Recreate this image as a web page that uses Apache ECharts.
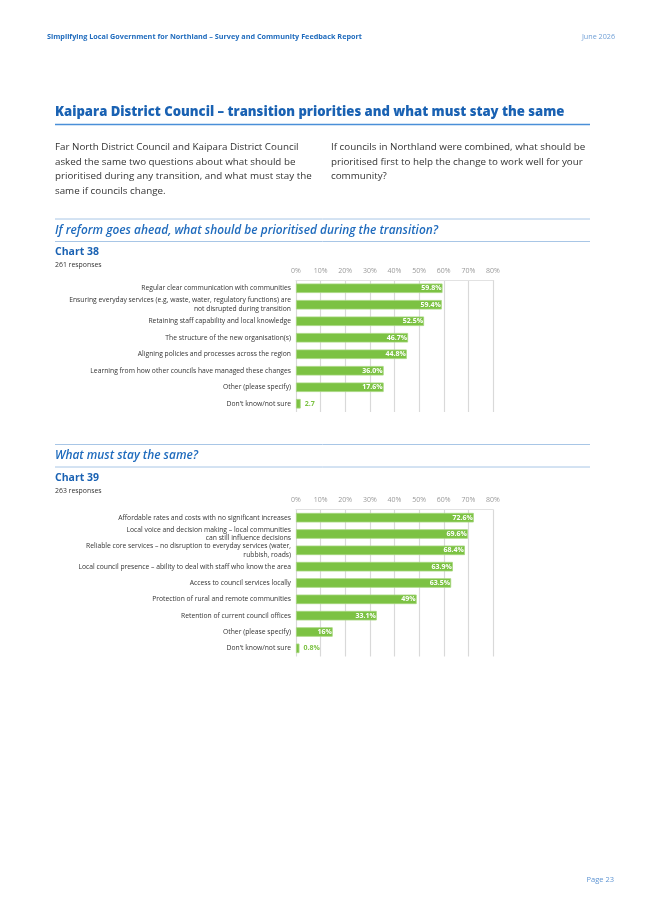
<!DOCTYPE html>
<html>
<head>
<meta charset="utf-8">
<script src="https://cdn.jsdelivr.net/npm/echarts@6/dist/echarts.min.js"></script>
<style>
html,body{margin:0;padding:0;background:#fff;}
#c{width:645px;height:912px;}
</style>
</head>
<body>
<div id="c"></div>
<script>
// ---- Chart 38 data ----
const cats38 = [
  "Regular clear communication with communities",
  "Ensuring everyday services (e.g, waste, water, regulatory functions) are\nnot disrupted during transition",
  "Retaining staff capability and local knowledge",
  "The structure of the new organisation(s)",
  "Aligning policies and processes across the region",
  "Learning from how other councils have managed these changes",
  "Other (please specify)",
  "Don't know/not sure"
];
const values38 = [59.5, 59.2, 52.0, 45.5, 45.0, 35.6, 35.6, 1.9];
const labels38 = ["59.8%", "59.4%", "52.5%", "46.7%", "44.8%", "36.0%", "17.6%", "2.7"];

// ---- Chart 39 data ----
const cats39 = [
  "Affordable rates and costs with no significant increases",
  "Local voice and decision making – local communities\ncan still influence decisions",
  "Reliable core services – no disruption to everyday services (water,\nrubbish, roads)",
  "Local council presence – ability to deal with staff who know the area",
  "Access to council services locally",
  "Protection of rural and remote communities",
  "Retention of current council offices",
  "Other (please specify)",
  "Don't know/not sure"
];
const values39 = [72.2, 69.8, 68.6, 63.7, 63.0, 49.0, 32.8, 14.9, 1.4];
const labels39 = ["72.6%", "69.6%", "68.4%", "63.9%", "63.5%", "49%", "33.1%", "16%", "0.8%"];

const ticks = [0, 10, 20, 30, 40, 50, 60, 70, 80];

const FONT = "'Open Sans', 'Noto Sans', sans-serif";
const GREEN = '#7cc243';
const BLUE = '#1a62b3';
const LINEBLUE = '#a8c6e6';

function barData(vals, labs) {
  return vals.map((v, i) => {
    const small = v < 5;
    return {
      value: v,
      label: {
        show: true,
        formatter: labs[i],
        position: small ? 'right' : 'insideRight',
        distance: small ? 4 : 1,
        color: small ? GREEN : '#fff',
        fontWeight: 'bold',
        fontSize: 7,
        fontFamily: FONT
      }
    };
  });
}

function xAxisFor(gridIndex) {
  return {
    gridIndex, type: 'value', position: 'top', min: ticks[0], max: ticks[ticks.length - 1], interval: ticks[1] - ticks[0],
    axisLine: { show: true, lineStyle: { color: '#e2e2e2', width: 1 } },
    axisTick: { show: false },
    axisLabel: { formatter: '{value}%', color: '#9a9a9a', fontSize: 7, fontFamily: FONT, margin: 6 },
    splitLine: { show: true, lineStyle: { color: '#d9d9d9', width: 1.2 } }
  };
}
function yAxisFor(gridIndex, cats) {
  return {
    gridIndex, type: 'category', data: cats, inverse: true,
    axisLine: { show: false }, axisTick: { show: false },
    axisLabel: { color: '#333', fontSize: 6.75, fontFamily: FONT, margin: 5, lineHeight: 8.5, align: 'right' }
  };
}

function txt(x, y, text, style) {
  return { type: 'text', x, y, style: Object.assign({ text, fontFamily: FONT, fill: '#333', textVerticalAlign: 'middle' }, style) };
}
function hline(y, color, w) {
  return { type: 'line', shape: { x1: 55, y1: y, x2: 590, y2: y }, style: { stroke: color, lineWidth: w } };
}

const para = { fontSize: 9.8, fill: '#333', lineHeight: 14.5, textVerticalAlign: 'top' };

const chart = echarts.init(document.getElementById('c'), null, { renderer: 'canvas' });
chart.setOption({
  animation: false,
  backgroundColor: '#fff',
  grid: [
    { left: 296, width: 197, top: 280, height: 132 },
    { left: 296, width: 197, top: 509.5, height: 147 }
  ],
  xAxis: [xAxisFor(0), xAxisFor(1)],
  yAxis: [yAxisFor(0, cats38), yAxisFor(1, cats39)],
  series: [
    { type: 'bar', xAxisIndex: 0, yAxisIndex: 0, barWidth: 9.5, data: barData(values38, labels38),
      itemStyle: { color: GREEN, borderColor: '#a6d77e', borderWidth: 0.8 } },
    { type: 'bar', xAxisIndex: 1, yAxisIndex: 1, barWidth: 9.5, data: barData(values39, labels39),
      itemStyle: { color: GREEN, borderColor: '#a6d77e', borderWidth: 0.8 } }
  ],
  graphic: [
    txt(47, 37, 'Simplifying Local Government for Northland – Survey and Community Feedback Report', { fontSize: 7.25, fontWeight: 'bold', fill: '#1f6bbd' }),
    txt(615, 37, 'June 2026', { fontSize: 7.2, fill: '#6f9fd6', textAlign: 'right' }),
    txt(55, 112, 'Kaipara District Council – transition priorities and what must stay the same', { fontSize: 13.1, fontWeight: 800, fill: BLUE }),
    hline(124.5, '#4a8fd8', 1.5),
    txt(55, 140, 'Far North District Council and Kaipara District Council\nasked the same two questions about what should be\nprioritised during any transition, and what must stay the\nsame if councils change.', para),
    txt(331, 140, 'If councils in Northland were combined, what should be\nprioritised first to help the change to work well for your\ncommunity?', para),
    hline(219, LINEBLUE, 1),
    txt(55, 230.5, 'If reform goes ahead, what should be prioritised during the transition?', { fontSize: 11.9, fontWeight: 600, fontStyle: 'italic', fill: '#1f6bbd' }),
    hline(241.5, LINEBLUE, 1),
    txt(55, 252, 'Chart 38', { fontSize: 10.5, fontWeight: 'bold', fill: BLUE }),
    txt(55, 265, '261 responses', { fontSize: 6.9, fill: '#333' }),
    hline(444.5, LINEBLUE, 1),
    txt(55, 456, 'What must stay the same?', { fontSize: 11.9, fontWeight: 600, fontStyle: 'italic', fill: '#1f6bbd' }),
    hline(467, LINEBLUE, 1),
    txt(55, 478, 'Chart 39', { fontSize: 10.5, fontWeight: 'bold', fill: BLUE }),
    txt(55, 491, '263 responses', { fontSize: 6.9, fill: '#333' }),
    txt(614, 880, 'Page 23', { fontSize: 7.5, fill: '#5f95d3', textAlign: 'right' })
  ]
});
</script>
</body>
</html>
